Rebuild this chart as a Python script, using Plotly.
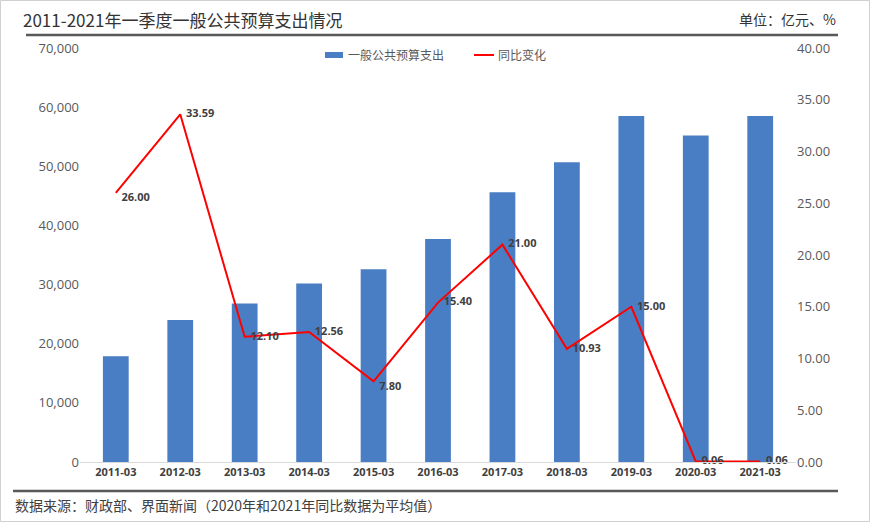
import plotly.graph_objects as go

categories = ["2011-03", "2012-03", "2013-03", "2014-03", "2015-03", "2016-03",
              "2017-03", "2018-03", "2019-03", "2020-03", "2021-03"]
spending = [17900, 24000, 26800, 30200, 32600, 37700, 45600, 50700, 58500, 55200, 58500]
yoy = [26.00, 33.59, 12.10, 12.56, 7.80, 15.40, 21.00, 10.93, 15.00, 0.06, 0.06]
yoy_labels = ["26.00", "33.59", "12.10", "12.56", "7.80", "15.40", "21.00", "10.93", "15.00", "0.06", "0.06"]
label_pos = ["bottom right", "middle right", "middle right", "middle right", "bottom right",
             "middle right", "middle right", "middle right", "middle right", "middle right", "middle right"]

CJK = "Noto Sans CJK SC"
NUM = "Open Sans"

W, H = 870, 522
L, R, T, B = 80, 74, 48, 60

fig = go.Figure()
fig.add_trace(go.Bar(
    x=categories, y=spending, name="一般公共预算支出",
    marker=dict(color="#4A7EC4", line=dict(width=0)),
    width=0.4, yaxis="y",
))
fig.add_trace(go.Scatter(
    x=categories, y=yoy, name="同比变化", mode="lines+text",
    line=dict(color="#FF0000", width=2),
    text=["  " + t for t in yoy_labels], textposition=label_pos,
    textfont=dict(family=NUM, size=11, color="#404040", weight="bold"),
    yaxis="y2", cliponaxis=False,
))

fig.update_layout(
    width=W, height=H,
    margin=dict(l=L, r=R, t=T, b=B, autoexpand=False),
    paper_bgcolor="white", plot_bgcolor="white",
    showlegend=False,
    xaxis=dict(type="category", showgrid=False, showline=True, linecolor="#D9D9D9",
               linewidth=1, ticks="", automargin=False,
               tickfont=dict(family=NUM, size=11, color="#404040", weight="bold")),
    yaxis=dict(range=[0, 70000], dtick=10000, tickformat=",d", showgrid=False,
               zeroline=False, showline=False, ticks="", automargin=False,
               tickfont=dict(family=NUM, size=13, color="#595959")),
    yaxis2=dict(range=[0, 40], dtick=5, tickformat=".2f", overlaying="y", side="right",
                showgrid=False, zeroline=False, showline=False, ticks="", automargin=False,
                tickfont=dict(family=NUM, size=13, color="#595959")),
)

def px(x):
    return (x - L) / (W - L - R)
def py(y):
    return (H - B - y) / (H - T - B)

# Title and unit
fig.add_annotation(xref="paper", yref="paper", x=px(21), y=py(20), xanchor="left", yanchor="middle",
                   text="2011-2021年一季度一般公共预算支出情况", showarrow=False,
                   font=dict(family=CJK, size=17, color="#333333"))
fig.add_annotation(xref="paper", yref="paper", x=px(838), y=py(19), xanchor="right", yanchor="middle",
                   text="单位：亿元、%", showarrow=False,
                   font=dict(family=CJK, size=14, color="#333333"))
fig.add_annotation(xref="paper", yref="paper", x=px(13), y=py(505), xanchor="left", yanchor="middle",
                   text="数据来源：财政部、界面新闻（2020年和2021年同比数据为平均值）", showarrow=False,
                   font=dict(family=CJK, size=14, color="#404040"))

# Manual legend
fig.add_shape(type="rect", xref="paper", yref="paper", x0=px(325), x1=px(343), y0=py(52), y1=py(58),
              fillcolor="#4A7EC4", line=dict(width=0))
fig.add_annotation(xref="paper", yref="paper", x=px(346), y=py(55), xanchor="left", yanchor="middle",
                   text="一般公共预算支出", showarrow=False,
                   font=dict(family=CJK, size=12, color="#595959"))
fig.add_shape(type="line", xref="paper", yref="paper", x0=px(474), x1=px(494), y0=py(55), y1=py(55),
              line=dict(color="#FF0000", width=2))
fig.add_annotation(xref="paper", yref="paper", x=px(496), y=py(55), xanchor="left", yanchor="middle",
                   text="同比变化", showarrow=False,
                   font=dict(family=CJK, size=12, color="#595959"))

# Decorative lines
fig.add_shape(type="line", xref="paper", yref="paper", x0=px(26), x1=px(838), y0=py(35), y1=py(35),
              line=dict(color="#595959", width=2.5))
fig.add_shape(type="line", xref="paper", yref="paper", x0=px(13), x1=px(838), y0=py(491), y1=py(491),
              line=dict(color="#595959", width=2.5))
fig.add_shape(type="rect", xref="paper", yref="paper", x0=px(0.5), x1=px(869.5), y0=py(0.5), y1=py(521.5),
              line=dict(color="#D0D0D0", width=1))

fig.write_html("out.html", config={"displayModeBar": False},
               post_script="document.body.style.margin='0';document.body.style.padding='0';")
